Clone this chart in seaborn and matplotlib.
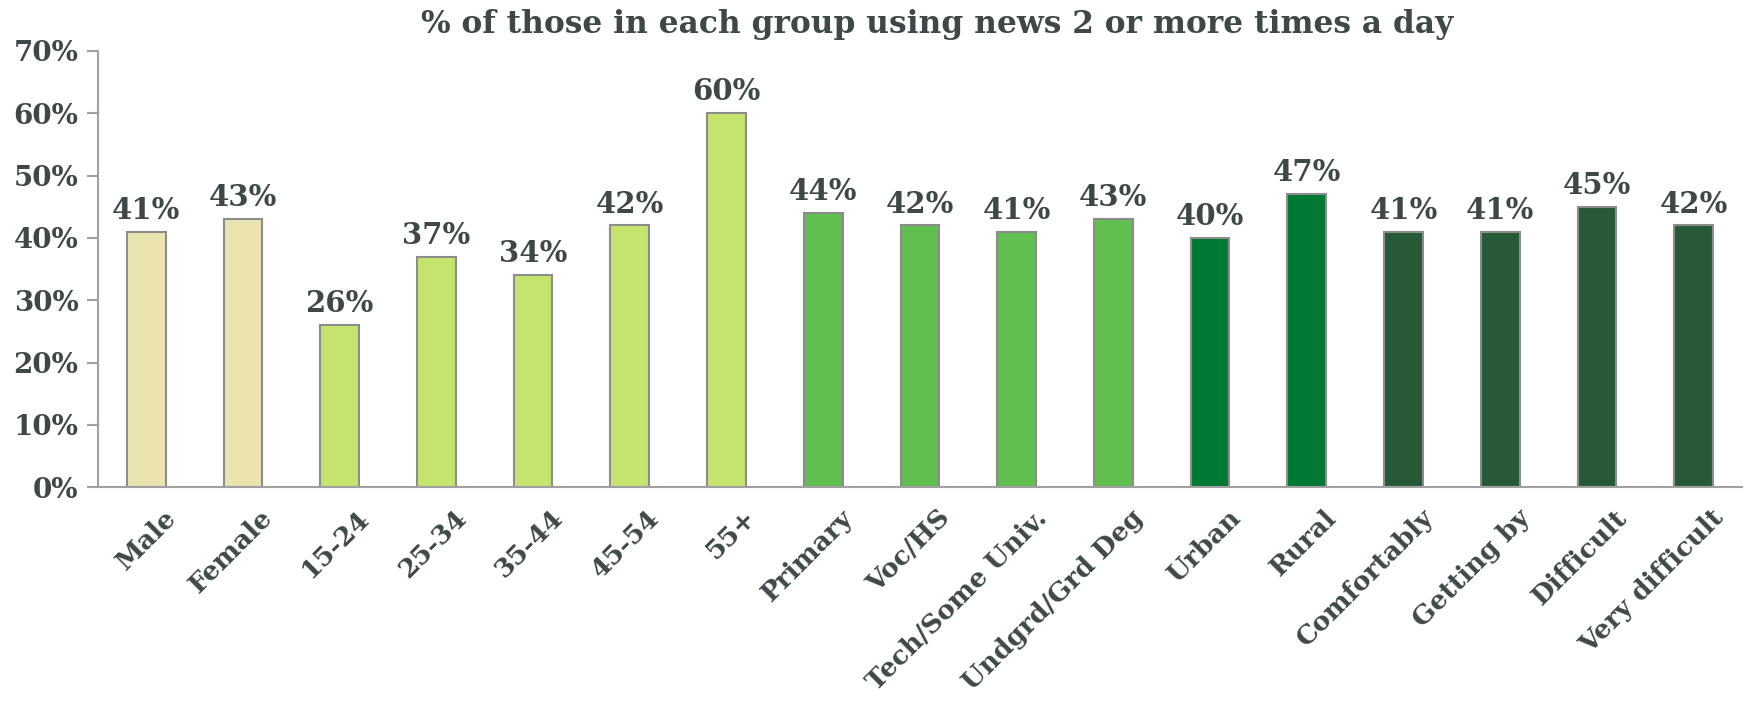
import matplotlib
matplotlib.use("Agg")
import matplotlib.pyplot as plt
import matplotlib.transforms as mtransforms
import seaborn as sns
from matplotlib.ticker import FuncFormatter, MultipleLocator

categories = ["Male", "Female", "15-24", "25-34", "35-44", "45-54", "55+",
              "Primary", "Voc/HS", "Tech/Some Univ.", "Undgrd/Grd Deg",
              "Urban", "Rural", "Comfortably", "Getting by", "Difficult",
              "Very difficult"]
values = [41, 43, 26, 37, 34, 42, 60, 44, 42, 41, 43, 40, 47, 41, 41, 45, 42]
groups = ["gender"] * 2 + ["age"] * 5 + ["education"] * 4 + ["location"] * 2 + ["income"] * 4
group_colors = {
    "gender": "#E9E4B0",
    "age": "#C5E46E",
    "education": "#60BF4F",
    "location": "#007934",
    "income": "#265A36",
}
title = "% of those in each group using news 2 or more times a day"

sns.set_theme(style="white")
text_color = "#3F4848"
plt.rcParams["font.family"] = ["DejaVu Serif"]
plt.rcParams["font.weight"] = "bold"

fig = plt.figure(figsize=(17.48, 7.04), dpi=100)
ax = fig.add_axes([0.056, 0.308, 0.9406, 0.6196])

palette = [group_colors[g] for g in groups]
sns.barplot(x=categories, y=values, hue=categories, palette=palette,
            width=0.4, edgecolor="#8C8C8C", linewidth=1.5, legend=False,
            ax=ax, saturation=1)

ax.set_ylim(0, 70)
ax.set_xlim(-0.5, len(categories) - 0.5)
ax.yaxis.set_major_locator(MultipleLocator(10))
ax.yaxis.set_major_formatter(FuncFormatter(lambda v, _: f"{v:.0f}%"))
ax.set_xlabel("")
ax.set_ylabel("")

for s in ["top", "right"]:
    ax.spines[s].set_visible(False)
for s in ["left", "bottom"]:
    ax.spines[s].set_color("#A0A0A0")
    ax.spines[s].set_linewidth(1.5)

ax.tick_params(axis="y", which="major", left=True, length=8, width=1.5,
               color="#A0A0A0", labelsize=20, labelcolor=text_color, pad=6)
ax.tick_params(axis="x", bottom=False, labelsize=19, labelcolor=text_color, pad=13)
# rotated labels sit with their upper end just right of each bar
shift = mtransforms.ScaledTranslation(26 / 100, 0, fig.dpi_scale_trans)
for lbl in ax.get_xticklabels():
    lbl.set_rotation(45)
    lbl.set_ha("right")
    lbl.set_va("center")
    lbl.set_rotation_mode("anchor")
    lbl.set_fontweight("bold")
    lbl.set_transform(lbl.get_transform() + shift)
for lbl in ax.get_yticklabels():
    lbl.set_fontweight("bold")

for i, v in enumerate(values):
    ax.annotate(f"{v}%", (i, v), xytext=(0, 5), textcoords="offset points",
                ha="center", va="bottom", fontsize=21, fontweight="bold",
                color=text_color)

fig.text(0.536, 0.965, title, ha="center", va="center", fontsize=22.5,
         fontweight="bold", color=text_color)

fig.savefig("out.png", dpi=100)
